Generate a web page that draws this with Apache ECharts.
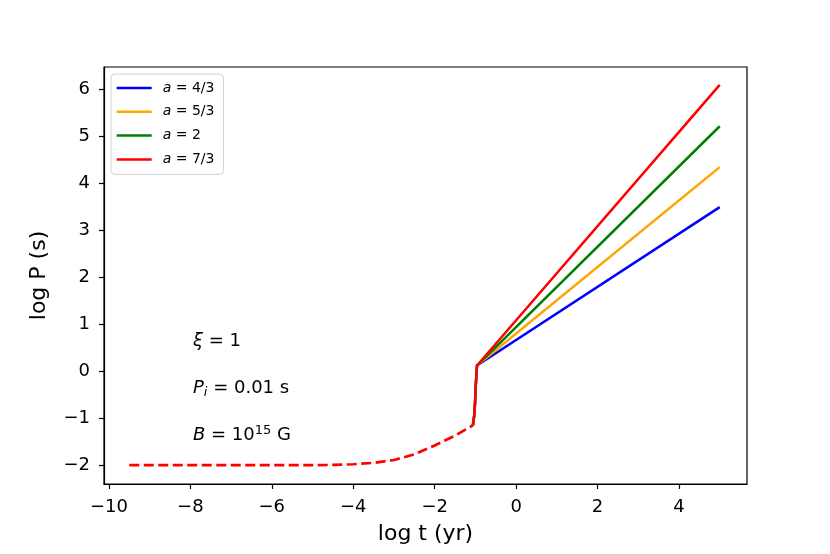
<!DOCTYPE html>
<html>
<head>
<meta charset="utf-8">
<script src="https://cdn.jsdelivr.net/npm/echarts@6/dist/echarts.min.js"></script>
<style>
html,body{margin:0;padding:0;background:#fff;}
#c{width:830px;height:554px;}
</style>
</head>
<body>
<div id="c"></div>
<script>
// Early phase (dashed), log t vs log P
const earlyT = [-9.5, -8, -6, -5, -4.5, -4, -3.5, -3, -2.5, -2, -1.5, -1.06];
const earlyP = [-2.0, -2.0, -2.0, -2.0, -1.995, -1.98, -1.95, -1.89, -1.77, -1.58, -1.37, -1.15];
// Steep rise (solid)
const riseT = [-1.06, -1.03, -1.01, -0.99, -0.97, -0.96];
const riseP = [-1.15, -0.95, -0.7, -0.3, 0.0, 0.12];
// Power-law endpoints at log t = 5
const endT = 5;
const seriesNames = ['4/3', '5/3', '2', '7/3'];
const seriesColors = ['#0000ff', '#ffa500', '#008000', '#ff0000'];
const endP = [3.49, 4.34, 5.21, 6.09];
const xTicks = [-10, -8, -6, -4, -2, 0, 2, 4];
const yTicks = [-2, -1, 0, 1, 2, 3, 4, 5, 6];

const fmt = v => String(v).replace('-', '\u2212');
const zip = (a, b) => a.map((v, i) => [v, b[i]]);

const series = seriesNames.map((n, i) => ({
  name: n,
  type: 'line',
  symbol: 'none',
  data: zip(riseT, riseP).concat([[endT, endP[i]]]),
  lineStyle: {color: seriesColors[i], width: 2.5},
  itemStyle: {color: seriesColors[i]},
  z: 3 + i,
  animation: false
}));
series.push({
  name: 'early',
  type: 'line',
  symbol: 'none',
  data: zip(earlyT, earlyP),
  lineStyle: {color: '#ff0000', width: 2.7, type: [10, 4.5]},
  itemStyle: {color: '#ff0000'},
  z: 2,
  animation: false
});

const font = 'DejaVu Sans';
const lineIcon = 'path://M0,0L35,0L35,2.5L0,2.5Z';
const chart = echarts.init(document.getElementById('c'), null, {renderer: 'canvas'});
chart.setOption({
  animation: false,
  backgroundColor: '#fff',
  textStyle: {fontFamily: font},
  grid: {left: 104, right: 83, top: 67, bottom: 70, show: true, borderColor: '#000', borderWidth: 1.2, backgroundColor: 'transparent'},
  xAxis: {
    type: 'value', min: -10.12, max: 5.67,
    name: 'log t (yr)', nameLocation: 'middle', nameGap: 39,
    nameTextStyle: {fontSize: 22, color: '#000', fontFamily: font},
    axisLine: {show: true, onZero: false, lineStyle: {color: '#000', width: 1.2}},
    splitLine: {show: false},
    axisTick: {show: true, inside: false, length: 5, customValues: xTicks, lineStyle: {color: '#000', width: 1.2}},
    axisLabel: {customValues: xTicks, formatter: fmt, color: '#000', fontSize: 18, margin: 14, fontFamily: font}
  },
  yAxis: {
    type: 'value', min: -2.4, max: 6.47,
    name: 'log P (s)', nameLocation: 'middle', nameGap: 54, nameRotate: 90,
    nameTextStyle: {fontSize: 22, color: '#000', fontFamily: font},
    axisLine: {show: true, onZero: false, lineStyle: {color: '#000', width: 1.2}},
    splitLine: {show: false},
    axisTick: {show: true, inside: false, length: 5, customValues: yTicks, lineStyle: {color: '#000', width: 1.2}},
    axisLabel: {customValues: yTicks, formatter: fmt, color: '#000', fontSize: 18, margin: 14, fontFamily: font}
  },
  legend: {
    data: seriesNames.map((n, i) => ({name: n, icon: lineIcon, itemStyle: {color: seriesColors[i]}})),
    left: 111, top: 74,
    orient: 'vertical',
    itemWidth: 35, itemHeight: 14, itemGap: 9.8,
    padding: [7, 9, 8, 5.7],
    borderColor: '#d0d0d0', borderWidth: 1, borderRadius: 4,
    backgroundColor: '#fff',
    formatter: n => '{sp|}{i|a}{t| = ' + n + '}',
    textStyle: {
      fontSize: 14, lineHeight: 14, color: '#000', fontFamily: font,
      rich: {
        sp: {width: 6},
        i: {fontStyle: 'italic', fontSize: 14, fontFamily: font},
        t: {fontSize: 14, fontFamily: font}
      }
    }
  },
  graphic: [
    {type: 'text', style: {x: 193, y: 341, verticalAlign: 'middle', text: '{i|\u03be} = 1', fontSize: 18, fontFamily: font, fill: '#000', rich: {i: {fontStyle: 'italic', fontSize: 18, fontFamily: font}}}},
    {type: 'text', style: {x: 193, y: 388.5, verticalAlign: 'middle', text: '{i|P}{s|i} = 0.01 s', fontSize: 18, fontFamily: font, fill: '#000', rich: {i: {fontStyle: 'italic', fontSize: 18, fontFamily: font}, s: {fontStyle: 'italic', fontSize: 13, fontFamily: font, verticalAlign: 'bottom', padding: [8, 0, 0, 0]}}}},
    {type: 'text', style: {x: 193, y: 435.5, verticalAlign: 'middle', text: '{i|B} = 10{s|15} G', fontSize: 18, fontFamily: font, fill: '#000', rich: {i: {fontStyle: 'italic', fontSize: 18, fontFamily: font}, s: {fontSize: 13, fontFamily: font, verticalAlign: 'top', padding: [0, 0, 9, 0]}}}}
  ],
  series: series
});
</script>
</body>
</html>
